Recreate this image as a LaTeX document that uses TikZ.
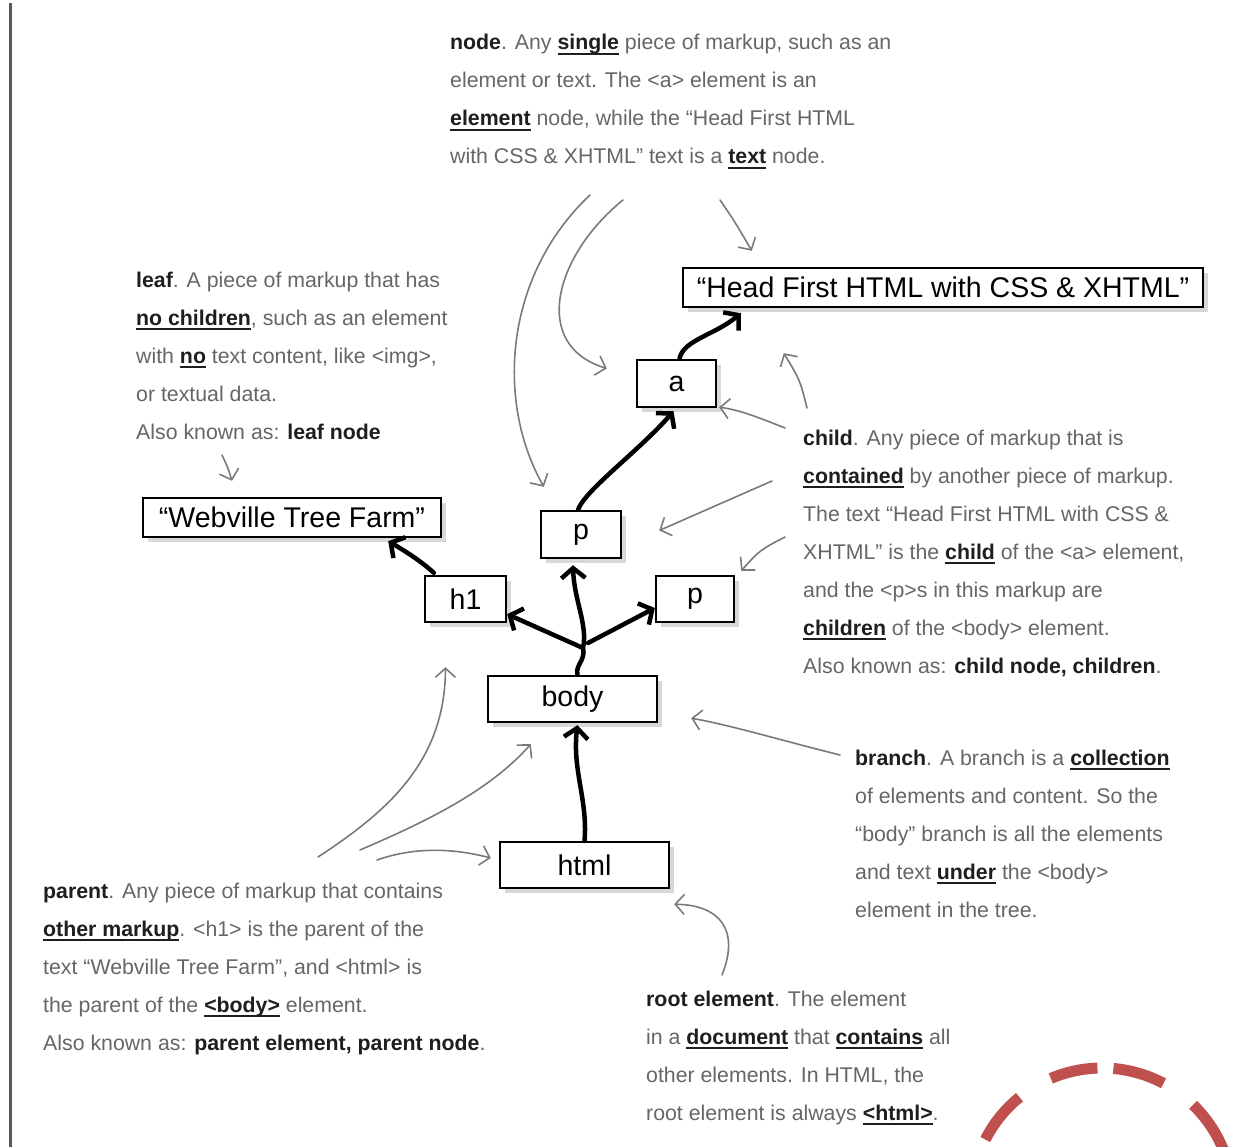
\documentclass[tikz,border=0pt]{standalone}
\usepackage{fontspec}
\usetikzlibrary{arrows.meta,shadows}
\newfontfamily\hand{Liberation Sans}
\newfontfamily\boxf{Liberation Sans}
\definecolor{txtc}{HTML}{666666}
\definecolor{kwc}{HTML}{1E1E1E}
\definecolor{arrc}{HTML}{7A7A7A}
\definecolor{redc}{RGB}{192,80,77}
\newcommand\kw[1]{{\bfseries\color{kwc}#1}}
\newcommand\ukw[1]{{\bfseries\color{kwc}\setbox0\hbox{#1}\rlap{\rule[-5pt]{\wd0}{1.8pt}}\box0}}
\begin{document}
\begin{tikzpicture}[x=1pt,y=-1pt,
  box/.style={draw, line width=2.4pt, fill=white, inner sep=0pt,
    font=\boxf\fontsize{28.5}{30}\selectfont,
    drop shadow={shadow xshift=5pt,shadow yshift=-5pt,opacity=0.3}},
  note/.style={anchor=base west, align=left, inner sep=0pt, text=txtc,
    font=\hand\fontsize{21.3}{38}\selectfont},
  thk/.style={line width=4.5pt, line cap=round, line join=round,
    -{Straight Barb[length=10pt,width=24pt,line width=4.5pt]}},
  stem/.style={line width=4.5pt, line cap=round},
  thin/.style={arrc, line width=1.6pt, line cap=round,
    -{Straight Barb[length=9pt,width=20pt,line width=1.6pt]}}
]
\useasboundingbox (0,0) rectangle (1247,1147);
\fill[white] (0,0) rectangle (1247,1147);
\draw[line width=3pt, color=black!65] (10,3) -- (10,1147);

% boxes
\node[box, minimum width=520, minimum height=39] (head) at (943,287.5) {“Head First HTML with CSS \& XHTML”};
\node[box, minimum width=79, minimum height=47] (a) at (676.5,383.5) {a};
\node[box, minimum width=298, minimum height=39] (web) at (292,517.5) {“Webville Tree Farm”};
\node[box, minimum width=80, minimum height=47] (p1) at (581,534.5) {p};
\node[box, minimum width=81, minimum height=46] (h1) at (465.5,599) {h1};
\node[box, minimum width=78, minimum height=46] (p2) at (695,599) {p};
\node[box, minimum width=169, minimum height=46] (body) at (572.5,699) {body};
\node[box, minimum width=169, minimum height=46] (html) at (584.5,865) {html};

% tree connectors
\coordinate (fork) at (583,648);
\draw[thk] (html.north) .. controls (588,800) and (572,770) .. ([xshift=5pt,yshift=-2pt]body.south);
\draw[stem] ([xshift=5pt]body.north) .. controls (575,665) and (586,660) .. (fork);
\draw[thk] (fork) -- ([yshift=9pt]h1.south east);
\draw[thk] ([xshift=5pt,yshift=5pt]fork) -- ([yshift=-9pt]p2.west);
\draw[thk] (fork) .. controls (588,625) and (574,600) .. ([xshift=-8pt,yshift=-6pt]p1.south);
\draw[thk] ([xshift=-3pt]p1.north) .. controls (585,490) and (640,450) .. ([xshift=-3pt,yshift=-3pt]a.south);
\draw[thk] ([xshift=3pt]a.north) .. controls (683,340) and (715,335) .. ([xshift=59pt,yshift=-5pt]head.south west);
\draw[thk] ([xshift=10pt,yshift=2pt]h1.north west) .. controls (420,560) and (400,548) .. ([xshift=-54pt,yshift=-3pt]web.south east);

% notes (anchored at the baseline of their last line)
\node[note] (nodetxt) at (450,164) {\kw{node}. Any \ukw{single} piece of markup, such as an\\element or text. The <a> element is an\\\ukw{element} node, while the “Head First HTML\\with CSS \& XHTML” text is a \ukw{text} node.};
\node[note] (leaftxt) at (136,439) {\kw{leaf}. A piece of markup that has\\\ukw{no children}, such as an element\\with \ukw{no} text content, like <img>,\\or textual data.\\Also known as: \kw{leaf node}};
\node[note] (childtxt) at (803,673) {\kw{child}. Any piece of markup that is\\\ukw{contained} by another piece of markup.\\The text “Head First HTML with CSS \&\\XHTML” is the \ukw{child} of the <a> element,\\and the <p>s in this markup are\\\ukw{children} of the <body> element.\\Also known as: \kw{child node, children}.};
\node[note] (branchtxt) at (855,917) {\kw{branch}. A branch is a \ukw{collection}\\of elements and content. So the\\“body” branch is all the elements\\and text \ukw{under} the <body>\\element in the tree.};
\node[note] (parenttxt) at (43,1050) {\kw{parent}. Any piece of markup that contains\\\ukw{other markup}. <h1> is the parent of the\\text “Webville Tree Farm”, and <html> is\\the parent of the \ukw{<body>} element.\\Also known as: \kw{parent element, parent node}.};
\node[note] (roottxt) at (646,1120) {\kw{root element}. The element\\in a \ukw{document} that \ukw{contains} all\\other elements. In HTML, the\\root element is always \ukw{<html>}.};

% annotation arrows
\coordinate (n1) at (590,195);
\coordinate (n2) at (623,200);
\coordinate (n3) at (720,200);
\coordinate (c1) at (785,428);
\coordinate (c2) at (807,408);
\coordinate (c3) at (772,481);
\coordinate (c4) at (785,537);
\coordinate (l1) at (222,455);
\coordinate (pa1) at (318,857);
\coordinate (pa2) at (360,850);
\coordinate (pa3) at (377,860);
\coordinate (b1) at (840,755);
\coordinate (r1) at (722,975);
\draw[thin] (n1) .. controls (505,275) and (495,400) .. ([xshift=4pt,yshift=23pt]p1.north west);
\draw[thin] (n2) .. controls (555,255) and (530,345) .. ([xshift=-29pt,yshift=15pt]a.west);
\draw[thin] (n3) .. controls (735,222) .. ([xshift=70pt,yshift=16pt]head.north west);
\draw[thin] (c1) .. controls (760,418) and (740,410) .. ([xshift=2pt,yshift=1pt]a.south east);
\draw[thin] (c2) .. controls (800,380) .. ([xshift=102pt,yshift=-45pt]head.south west);
\draw[thin] (c3) -- ([xshift=37pt,yshift=4pt]p1.east);
\draw[thin] (c4) .. controls (760,550) .. ([xshift=6pt,yshift=4pt]p2.north east);
\draw[thin] (l1) .. controls (228,468) .. ([xshift=-60pt,yshift=16pt]web.north);
\draw[thin] (pa1) .. controls (390,810) and (445,760) .. ([xshift=-20pt,yshift=-44pt]h1.south);
\draw[thin] (pa2) .. controls (430,820) and (490,790) .. ([xshift=44pt,yshift=-21pt]body.south west);
\draw[thin] (pa3) .. controls (420,845) and (460,850) .. ([xshift=-8pt,yshift=7pt]html.west);
\draw[thin] (b1) .. controls (780,740) and (730,725) .. ([xshift=33pt,yshift=5pt]body.south east);
\draw[thin] (r1) .. controls (740,930) and (720,905) .. ([xshift=4pt,yshift=-15pt]html.south east);

% red dashed circle
\begin{scope}[redc, line width=11pt]
\draw (1102,1199) ++(-153:131) arc[start angle=-153, end angle=-129, radius=131];
\draw (1102,1199) ++(-113:131) arc[start angle=-113, end angle=-92, radius=131];
\draw (1102,1199) ++(-85:131) arc[start angle=-85, end angle=-62, radius=131];
\draw (1102,1199) ++(-46:131) arc[start angle=-46, end angle=-10, radius=131];
\end{scope}
\end{tikzpicture}
\end{document}
